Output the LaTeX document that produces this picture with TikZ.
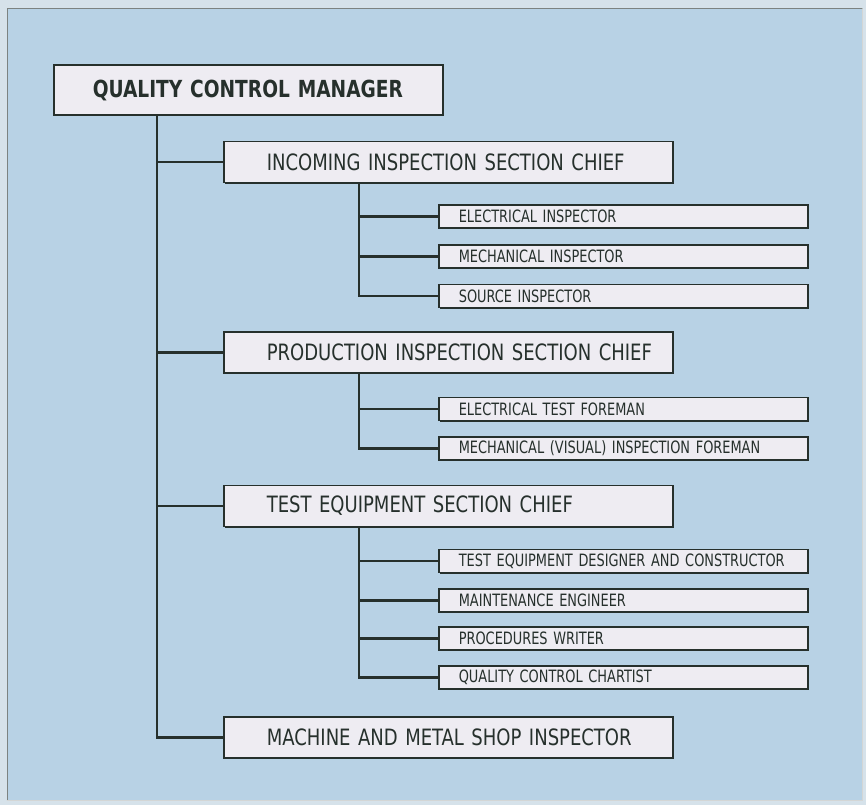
\documentclass[tikz,border=0pt]{standalone}
\usepackage{fontspec}
\setmainfont{DejaVu Sans Condensed}
\newfontfamily\managerfont{DejaVu Sans Condensed}[FakeStretch=0.88, WordSpace=1.5]
\newfontfamily\chieffont{DejaVu Sans Condensed}[FakeStretch=0.89, WordSpace=2.1]
\newfontfamily\stafffont{DejaVu Sans Condensed}[FakeStretch=0.845, WordSpace=2.5]
\usepackage{tikz}
\usetikzlibrary{shadows}

\definecolor{chartblue}{RGB}{184,210,229}
\definecolor{paper}{RGB}{214,226,234}
\definecolor{ink}{RGB}{38,48,44}
\definecolor{boxfill}{RGB}{238,236,242}

\begin{document}
\begin{tikzpicture}[
            x=1pt, y=-1pt,
            line cap=round,
            link/.style={ink, line width=2.6pt, line cap=butt, line join=miter},
            post/.style={
                draw=ink, fill=boxfill, line width=1.6pt,
                drop shadow={shadow xshift=1.2pt, shadow yshift=-1.2pt, fill=ink, opacity=1},
                anchor=west, align=left, text=ink, inner ysep=0pt,
                execute at begin node={\hbox\bgroup},
                execute at end node={\egroup}
            },
            manager box/.style={post, font=\managerfont\fontsize{23.5}{26}\selectfont\bfseries,
                minimum height=50pt, inner xsep=39pt, text width=311pt},
            chief box/.style={post, font=\chieffont\fontsize{22.5}{25}\selectfont,
                minimum height=41pt, inner xsep=43pt, text width=363pt},
            staff box/.style={post, font=\stafffont\fontsize{17}{19}\selectfont,
                minimum height=23pt, inner xsep=20pt, text width=329pt},
        ]
        % background and frame
        \fill[paper] (0,0) rectangle (866,805);
        \fill[chartblue] (7,9) rectangle (862,800);
        \draw[ink!60, line width=1pt] (7,800) -- (7,9) -- (862,9);
        \draw[ink!20, line width=0.6pt] (862,9) -- (862,800) -- (7,800);
        \useasboundingbox (0,0) rectangle (866,805);

        \coordinate (mainbus) at (157,0);
        \coordinate (bus) at (359,0);

        % top
        \node[manager box] (qcm) at (53,90) {QUALITY CONTROL MANAGER};

        % section chiefs
        \node[chief box] (incoming) at (223,162) {INCOMING INSPECTION SECTION CHIEF};
        \node[chief box] (production) at (223,352.5) {PRODUCTION INSPECTION SECTION CHIEF};
        \node[chief box] (testeq) at (223,506) {TEST EQUIPMENT SECTION CHIEF};
        \node[chief box] (machine) at (223,737.5) {MACHINE AND METAL SHOP INSPECTOR};

        % staff
        \node[staff box] (elecinsp) at (438,216.5) {ELECTRICAL INSPECTOR};
        \node[staff box] (mechinsp) at (438,256.5) {MECHANICAL INSPECTOR};
        \node[staff box] (srcinsp) at (438,296) {SOURCE INSPECTOR};

        \node[staff box] (electest) at (438,409) {ELECTRICAL TEST FOREMAN};
        \node[staff box] (mechvis) at (438,448.5) {MECHANICAL (VISUAL) INSPECTION FOREMAN};

        \node[staff box] (tedesign) at (438,561) {TEST EQUIPMENT DESIGNER AND CONSTRUCTOR};
        \node[staff box] (maint) at (438,600.5) {MAINTENANCE ENGINEER};
        \node[staff box] (procwriter) at (438,638.5) {PROCEDURES WRITER};
        \node[staff box] (chartist) at (438,677.5) {QUALITY CONTROL CHARTIST};

        % connectors
        \draw[link] (qcm.south -| mainbus) |- (machine.west);
        \foreach \n in {incoming,production,testeq}
            \draw[link] (mainbus |- \n.west) -- (\n.west);

        \draw[link] (incoming.south -| bus) |- (srcinsp.west);
        \foreach \n in {elecinsp,mechinsp}
            \draw[link] (bus |- \n.west) -- (\n.west);

        \draw[link] (production.south -| bus) |- (mechvis.west);
        \draw[link] (bus |- electest.west) -- (electest.west);

        \draw[link] (testeq.south -| bus) |- (chartist.west);
        \foreach \n in {tedesign,maint,procwriter}
            \draw[link] (bus |- \n.west) -- (\n.west);
        \end{tikzpicture}
\end{document}
